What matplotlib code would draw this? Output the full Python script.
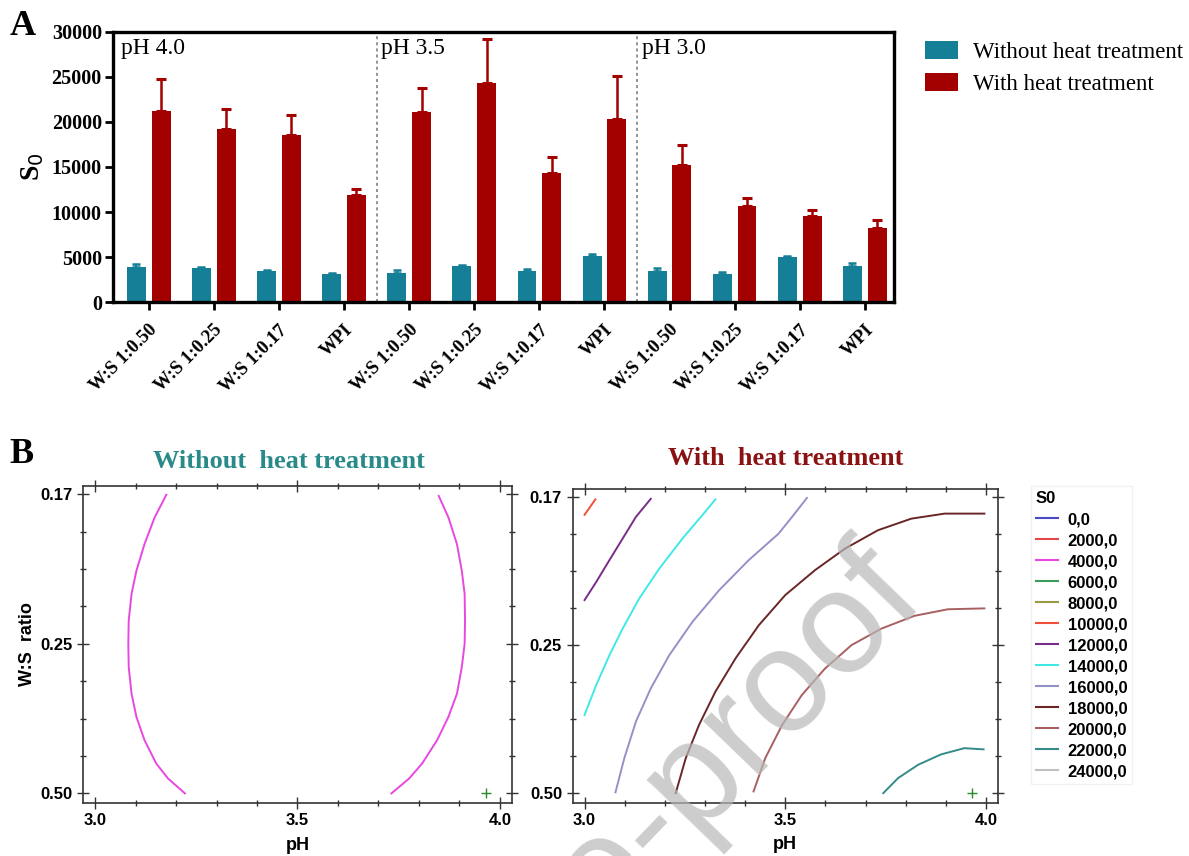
import matplotlib
matplotlib.use("Agg")
import matplotlib.pyplot as plt
import numpy as np
from matplotlib.lines import Line2D
from matplotlib.patches import Patch

SERIF = "Liberation Serif"
SANS = "Liberation Sans"

# ---- panel A data ----
group_names = ["pH 4.0", "pH 3.5", "pH 3.0"]
sample_labels = ["W:S 1:0.50", "W:S 1:0.25", "W:S 1:0.17", "WPI"] * 3
s0_without = [3950, 3840, 3430, 3170, 3250, 4060, 3500, 5170, 3500, 3140, 4980, 4060]
err_without = [250, 60, 120, 80, 330, 80, 150, 220, 340, 180, 190, 240]
s0_with = [21150, 19200, 18500, 11850, 21070, 24350, 14350, 20300, 15240, 10630, 9600, 8270]
err_with = [3650, 2200, 2250, 750, 2730, 4850, 1750, 4800, 2160, 920, 600, 830]

# ---- panel B data: contour lines (pH, coded W:S level 0=0.50 .. 1=0.17) ----
ws_ticks = ["0.50", "0.25", "0.17"]
ph_ticks = [3.0, 3.5, 4.0]

without_lines = {
    4000.0: [
        ([3.176, 3.147, 3.122, 3.102, 3.090, 3.083, 3.082, 3.083, 3.090, 3.102, 3.122, 3.151, 3.180, 3.222],
         [0.998, 0.922, 0.833, 0.744, 0.667, 0.578, 0.500, 0.422, 0.333, 0.256, 0.178, 0.100, 0.050, 0.0]),
        ([3.849, 3.873, 3.894, 3.906, 3.913, 3.914, 3.913, 3.906, 3.894, 3.873, 3.845, 3.808, 3.776, 3.732],
         [0.994, 0.922, 0.833, 0.744, 0.667, 0.578, 0.500, 0.422, 0.333, 0.256, 0.178, 0.100, 0.050, 0.0]),
    ],
}
with_lines = {
    10000.0: [([3.0, 3.027], [0.940, 0.992])],
    12000.0: [([3.0, 3.029, 3.062, 3.095, 3.128, 3.165],
               [0.652, 0.713, 0.787, 0.860, 0.933, 0.994])],
    14000.0: [([3.0, 3.029, 3.062, 3.095, 3.136, 3.186, 3.244, 3.293, 3.326],
               [0.264, 0.365, 0.466, 0.556, 0.657, 0.758, 0.860, 0.938, 0.992])],
    16000.0: [([3.077, 3.099, 3.128, 3.165, 3.211, 3.269, 3.335, 3.409, 3.483, 3.517, 3.554],
               [0.003, 0.118, 0.242, 0.354, 0.466, 0.579, 0.685, 0.787, 0.876, 0.933, 0.997])],
    18000.0: [([3.227, 3.252, 3.285, 3.326, 3.376, 3.434, 3.500, 3.574, 3.649, 3.731, 3.814, 3.897, 3.996],
               [0.0, 0.118, 0.230, 0.343, 0.455, 0.567, 0.669, 0.753, 0.826, 0.888, 0.927, 0.944, 0.944])],
    20000.0: [([3.421, 3.450, 3.492, 3.541, 3.599, 3.665, 3.740, 3.822, 3.905, 3.996],
               [0.006, 0.118, 0.230, 0.331, 0.421, 0.500, 0.556, 0.599, 0.621, 0.624])],
    22000.0: [([3.744, 3.781, 3.831, 3.888, 3.946, 3.994],
               [0.0, 0.051, 0.096, 0.131, 0.152, 0.148])],
}
optimum_without = (3.965, 0.0)
optimum_with = (3.965, 0.0)

levels = [0.0, 2000.0, 4000.0, 6000.0, 8000.0, 10000.0, 12000.0, 14000.0,
          16000.0, 18000.0, 20000.0, 22000.0, 24000.0]
level_colors = ["#4a4ac8", "#e04848", "#e848e0", "#3c9a5c", "#9a9a40", "#f05038", "#7a2c8a",
                "#40e8e8", "#9490c8", "#6a2626", "#a86060", "#358a8a", "#c0c0c0"]
color_of = dict(zip(levels, level_colors))

teal = "#167f98"
red = "#a30000"

fig = plt.figure(figsize=(11.89, 8.56), dpi=100)

# ================= panel A =================
ax = fig.add_axes([0.095, 0.647, 0.657, 0.316])
x = np.arange(len(s0_with))
w = 0.29
ax.bar(x - 0.19, s0_without, w, color=teal, zorder=2,
       yerr=[np.zeros(len(x)), err_without],
       error_kw=dict(ecolor=teal, capsize=3, elinewidth=1.6, capthick=1.8))
ax.bar(x + 0.19, s0_with, w, color=red, zorder=2,
       yerr=[np.zeros(len(x)), err_with],
       error_kw=dict(ecolor=red, capsize=3.5, elinewidth=1.8, capthick=2.2))

for xs in [3.5, 7.5]:
    ax.axvline(xs, color="#777777", linestyle=(0, (2, 2)), linewidth=1.1, zorder=1)
for i, name in enumerate(group_names):
    ax.text(4 * i - 0.5 + 0.07, 29300, name, fontsize=17, family=SERIF, va="top", ha="left")

ax.set_xlim(-0.55, 11.45)
ax.set_ylim(0, 30000)
ax.set_yticks(range(0, 30001, 5000))
ax.set_xticks(x)
ax.set_xticklabels(sample_labels, rotation=45, ha="right", rotation_mode="anchor",
                   fontsize=13.5, family=SERIF, fontweight="bold")
for t in ax.get_yticklabels():
    t.set_family(SERIF)
    t.set_fontweight("bold")
    t.set_fontsize(14.5)
ax.tick_params(axis="both", direction="out", length=6, width=2)
ax.tick_params(axis="y", pad=2)
ax.tick_params(axis="x", pad=8)
for s in ax.spines.values():
    s.set_linewidth(2.4)
ax.set_ylabel("S$_0$", fontsize=20, family=SERIF, fontweight="bold", labelpad=4)

fig.legend(handles=[Patch(facecolor=teal, label="Without heat treatment"),
                    Patch(facecolor=red, label="With heat treatment")],
           loc="upper left", bbox_to_anchor=(0.778, 0.952), frameon=False,
           prop=dict(family=SERIF, size=16.5), handlelength=1.45, handleheight=0.8,
           handletextpad=0.65, labelspacing=0.45, borderpad=0, borderaxespad=0)

fig.text(0.008, 0.988, "A", fontsize=26, family=SERIF, fontweight="bold", va="top")
fig.text(0.008, 0.488, "B", fontsize=26, family=SERIF, fontweight="bold", va="top")


# ================= panel B =================
def contour_panel(rect, lines, optimum, title, title_color, title_x, title_pad, ylabel):
    a = fig.add_axes(rect)
    for lev, segs in lines.items():
        for px, py in segs:
            a.plot(px, py, color=color_of[lev], linewidth=1.4)
    a.plot(*optimum, marker="+", color="#2a8a2a", markersize=7, mew=1.0)
    a.set_xlim(2.97, 4.03)
    a.set_ylim(-0.032, 1.027)
    a.set_xticks(ph_ticks)
    a.set_xticks(np.arange(3.0, 4.001, 0.1), minor=True)
    a.set_yticks([0, 0.5, 1.0])
    a.set_yticks(np.arange(0, 1.001, 0.125), minor=True)
    a.set_yticklabels(ws_ticks)
    a.set_xticklabels([f"{v:.1f}" for v in ph_ticks])
    for t in a.get_xticklabels() + a.get_yticklabels():
        t.set_family(SANS)
        t.set_fontweight("bold")
        t.set_fontsize(12)
    a.tick_params(which="both", direction="inout", top=True, right=True, width=1.0, color="#333333")
    a.tick_params(which="major", length=8)
    a.tick_params(which="minor", length=5)
    for s in a.spines.values():
        s.set_linewidth(1.2)
        s.set_color("#333333")
    a.set_xlabel("pH", fontsize=13, family=SANS, fontweight="bold", labelpad=6)
    if ylabel:
        a.set_ylabel("W:S  ratio", fontsize=13, family=SANS, fontweight="bold", labelpad=3)
    a.set_title(title, fontsize=19, family=SERIF, fontweight="bold", color=title_color,
                pad=title_pad, x=title_x)
    return a


contour_panel([0.0698, 0.0619, 0.3608, 0.3703], without_lines, optimum_without,
              "Without  heat treatment", "#2a8a8a", 0.48, 13, True)
contour_panel([0.4815, 0.0623, 0.3579, 0.3664], with_lines, optimum_with,
              "With  heat treatment", "#8b1212", 0.5, 17, False)

leg_handles = [Line2D([], [], color=c, linewidth=1.5) for c in level_colors]
leg_labels = [f"{int(v)},0" for v in levels]
leg = fig.legend(leg_handles, leg_labels, title="S0", loc="upper left",
                 bbox_to_anchor=(0.867, 0.432), frameon=True, fancybox=False,
                 prop=dict(family=SANS, weight="bold", size=12),
                 title_fontproperties=dict(family=SANS, weight="bold", size=12),
                 handlelength=1.3, handletextpad=0.6, labelspacing=0.36, borderpad=0.3,
                 borderaxespad=0)
leg.get_frame().set_edgecolor("#eeeeee")
leg.get_frame().set_linewidth(1.0)
leg._legend_box.align = "left"

# watermark
fig.text(0.780, 0.298, "Journal Pre-proof", fontsize=105, family=SANS, color="#b8b8b8",
         alpha=0.7, rotation=46, rotation_mode="anchor", ha="right", va="baseline", zorder=10)

fig.savefig("out.png", dpi=100)
